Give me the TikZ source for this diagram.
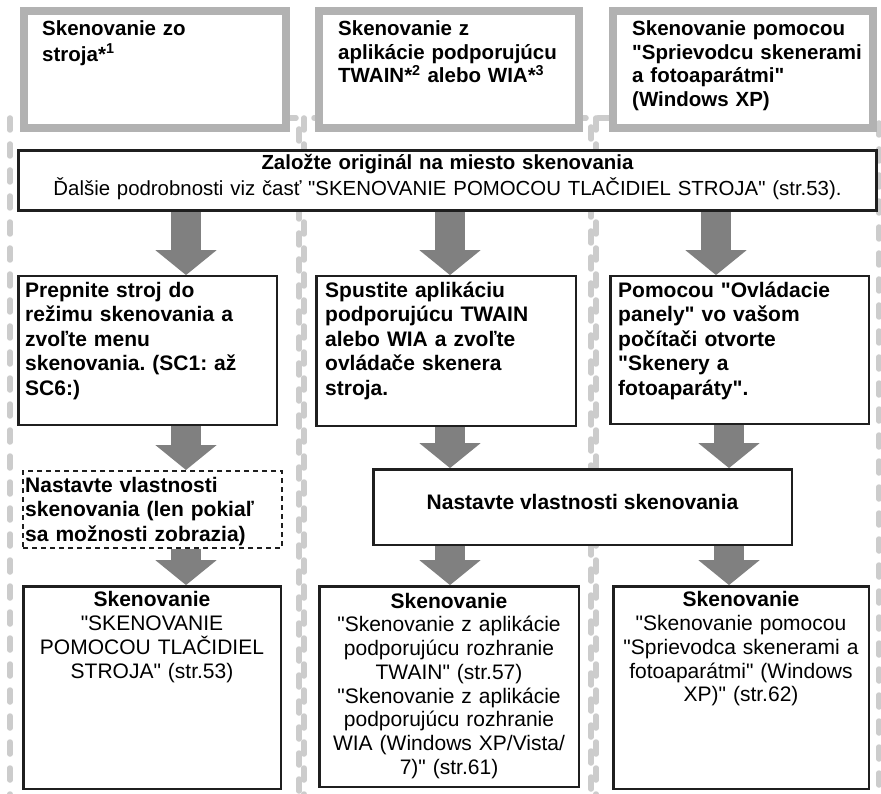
\documentclass[tikz,border=0pt]{standalone}
\usepackage{fontspec}
\setmainfont{Liberation Sans}[Ligatures=TeXOff]
\usetikzlibrary{arrows.meta}
\frenchspacing
\begin{document}
\begin{tikzpicture}[x=1pt,y=-1pt,
  hdr/.style={draw=black!30, line width=8pt, fill=white, inner sep=0pt},
  box/.style={draw=black!88, line width=2.4pt, fill=white, inner sep=0pt},
  optbox/.style={draw=black!88, line width=2pt, dash pattern=on 5pt off 4pt, fill=white, inner sep=0pt},
  coldash/.style={draw=black!20, line width=5.5pt, line cap=round, dash pattern=on 12pt off 14pt},
  bigarrow/.style={draw=black!50, line width=30pt, -{Triangle[width=60pt,length=25pt]}},
  hdrtxt/.style={anchor=north west, inner sep=0pt, align=left, text width=250pt, font=\fontsize{20.5}{23.5}\selectfont\bfseries},
  steptxt/.style={anchor=north west, inner sep=0pt, align=left, text width=255pt, font=\fontsize{21}{24.5}\selectfont\bfseries},
  endtxt/.style={anchor=north, inner sep=0pt, align=center, text width=256pt, font=\fontsize{21}{23.7}\selectfont},
]
\useasboundingbox (0,0) rectangle (881,794);
\fill[white] (0,0) rectangle (881,794);
% column frames
\draw[coldash] (10,118) rectangle (299,830);
\draw[coldash] (304,118) rectangle (591,830);
\draw[coldash] (596,118) rectangle (879,830);
% header boxes
\node[hdr, minimum width=262pt, minimum height=117pt] (hdrA) at (155,69.5) {};
\node[hdr, minimum width=260pt, minimum height=117pt] (hdrB) at (449,69.5) {};
\node[hdr, minimum width=260pt, minimum height=117pt] (hdrC) at (743,69.5) {};
\node[hdrtxt] (hdrAt) at (42,19) {\strut Skenovanie zo\\stroja*\textsuperscript{1}};
\node[hdrtxt] (hdrBt) at (338,19) {\strut Skenovanie z\\aplikácie podporujúcu\\TWAIN*\textsuperscript{2} alebo WIA*\textsuperscript{3}};
\node[hdrtxt] (hdrCt) at (632,19) {\strut Skenovanie pomocou\\"Sprievodcu skenerami\\a fotoaparátmi"\\(Windows XP)};
% main box
\node[box, line width=2.6pt, minimum width=858.4pt, minimum height=60.4pt] (main) at (447.5,180.5) {};
\node[anchor=north, inner sep=0pt, align=center, text width=850pt, font=\fontsize{20.4}{23}\selectfont] (maint) at (447.5,153.7)
  {\strut\textbf{Založte originál na miesto skenovania}\\Ďalšie podrobnosti viz časť "SKENOVANIE POMOCOU TLAČIDIEL STROJA" (str.53).};
% row 2
\node[box, minimum width=258.4pt, minimum height=148.4pt] (sA) at (147.5,350.5) {};
\node[box, minimum width=259.4pt, minimum height=149.4pt] (sB) at (446,351) {};
\node[box, minimum width=258.4pt, minimum height=147.4pt] (sC) at (739.5,350) {};
\node[steptxt] (sAt) at (25,279.7) {\strut Prepnite stroj do\\režimu skenovania a\\zvoľte menu\\skenovania. (SC1: až\\SC6:)};
\node[steptxt] (sBt) at (325,279.7) {\strut Spustite aplikáciu\\podporujúcu TWAIN\\alebo WIA a zvoľte\\ovládače skenera\\stroja.};
\node[steptxt] (sCt) at (618,279.7) {\strut Pomocou "Ovládacie\\panely" vo vašom\\počítači otvorte\\"Skenery a\\fotoaparáty".};
% row 3
\node[optbox, minimum width=259pt, minimum height=77pt] (optA) at (152.5,509.5) {};
\node[steptxt] (optAt) at (25,474.7) {\strut Nastavte vlastnosti\\skenovania (len pokiaľ\\sa možnosti zobrazia)};
\node[box, minimum width=418.4pt, minimum height=75.4pt] (setBC) at (582.5,507) {};
\node[anchor=base, inner sep=0pt, font=\fontsize{21}{24.5}\selectfont\bfseries] (setBCt) at (582.5,509.8) {Nastavte vlastnosti skenovania};
% row 4
\node[box, minimum width=257.4pt, minimum height=202.4pt] (endA) at (152,687.5) {};
\node[box, minimum width=259.4pt, minimum height=200.4pt] (endB) at (449,686.5) {};
\node[box, minimum width=255.4pt, minimum height=202.4pt] (endC) at (741,687.5) {};
\node[endtxt] (endAt) at (152,590.2) {\strut\textbf{Skenovanie}\\"SKENOVANIE\\POMOCOU TLAČIDIEL\\STROJA" (str.53)};
\node[endtxt] (endBt) at (449,591.5) {\strut\textbf{Skenovanie}\\"Skenovanie z aplikácie\\podporujúcu rozhranie\\TWAIN" (str.57)\\"Skenovanie z aplikácie\\podporujúcu rozhranie\\WIA (Windows XP/Vista/\\7)" (str.61)};
\node[endtxt] (endCt) at (741,590.2) {\strut\textbf{Skenovanie}\\"Skenovanie pomocou\\"Sprievodca skenerami a\\fotoaparátmi" (Windows\\XP)" (str.62)};
% arrow columns
\coordinate (xa) at (186,0);
\coordinate (xb) at (450,0);
\coordinate (xc) at (716,0);
\coordinate (xd) at (729,0);
\draw[bigarrow] (main.south -| xa) -- (sA.north -| xa);
\draw[bigarrow] (main.south -| xb) -- (sB.north -| xb);
\draw[bigarrow] (main.south -| xc) -- (sC.north -| xc);
\draw[bigarrow] (sA.south -| xa) -- (optA.north -| xa);
\draw[bigarrow] (sB.south -| xb) -- (setBC.north -| xb);
\draw[bigarrow] (sC.south -| xd) -- (setBC.north -| xd);
\draw[bigarrow] (optA.south -| xa) -- (endA.north -| xa);
\draw[bigarrow] (setBC.south -| xb) -- (endB.north -| xb);
\draw[bigarrow] (setBC.south -| xd) -- (endC.north -| xd);
\end{tikzpicture}
\end{document}
